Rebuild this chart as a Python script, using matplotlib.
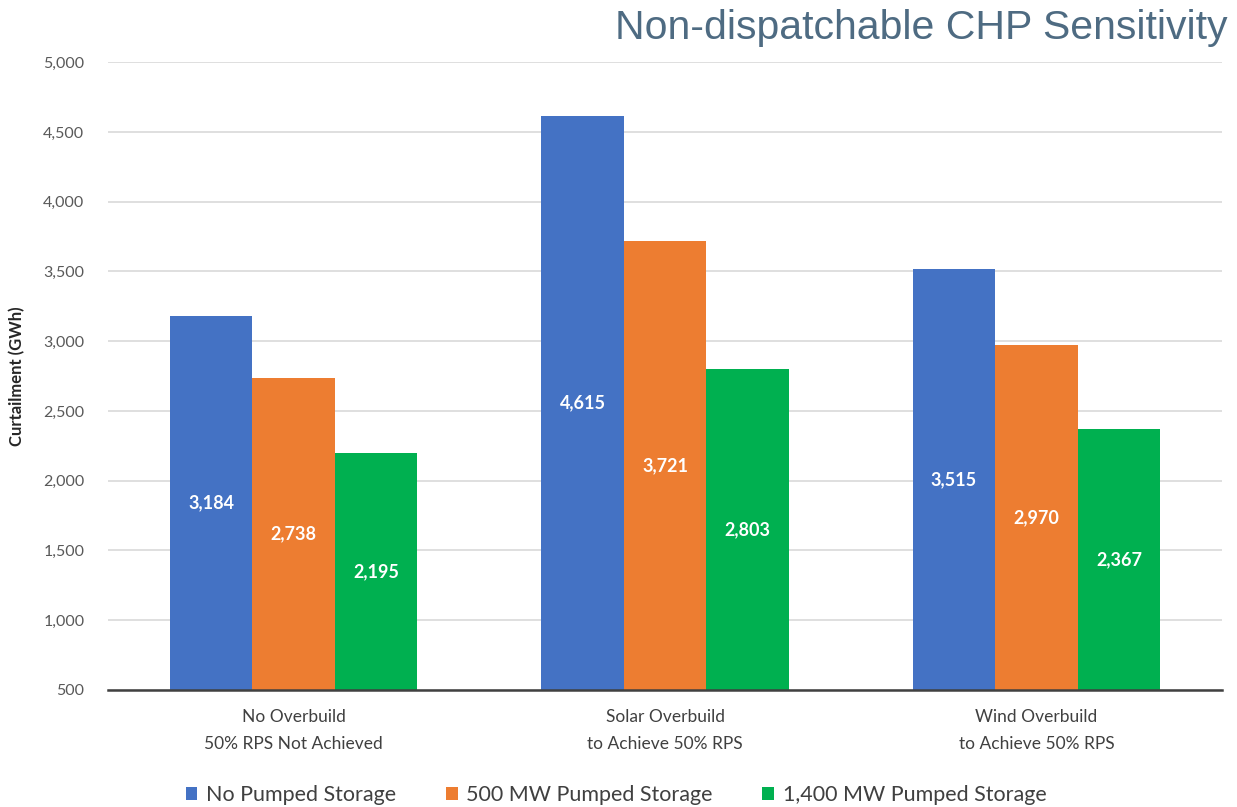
import matplotlib
matplotlib.use("Agg")
import matplotlib.pyplot as plt
import numpy as np

categories = ["No Overbuild\n50% RPS Not Achieved",
              "Solar Overbuild\nto Achieve 50% RPS",
              "Wind Overbuild\nto Achieve 50% RPS"]
series_names = ["No Pumped Storage", "500 MW Pumped Storage", "1,400 MW Pumped Storage"]
no_storage = [3184, 4615, 3515]
storage_500 = [2738, 3721, 2970]
storage_1400 = [2195, 2803, 2367]
y_ticks = [500, 1000, 1500, 2000, 2500, 3000, 3500, 4000, 4500, 5000]

colors = ["#4472C4", "#ED7D31", "#00B050"]
baseline = 500

plt.rcParams["font.family"] = ["Lato", "DejaVu Sans"]

fig = plt.figure(figsize=(12.37, 8.07), dpi=100)
ax = fig.add_axes([0.0873, 0.145, 0.9007, 0.778])

x = np.arange(len(categories))
width = 0.222
offsets = [-width, 0, width]
for vals, off, col, name in zip([no_storage, storage_500, storage_1400], offsets, colors, series_names):
    heights = [v - baseline for v in vals]
    ax.bar(x + off, heights, width, bottom=baseline, color=col, label=name, zorder=3)
    for xi, v in zip(x + off, vals):
        ax.text(xi, (baseline + v) / 2, f"{v:,}", ha="center", va="center",
                color="white", fontsize=13, fontweight="bold", zorder=4)

ax.set_xlim(-0.5, 2.5)
ax.set_ylim(500, 5000)
ax.set_yticks(y_ticks)
ax.set_yticklabels([f"{t:,}" for t in y_ticks], color="#595959", fontsize=11.5)
ax.set_xticks(x)
ax.set_xticklabels(categories, color="#404040", fontsize=12.5, linespacing=1.8)
ax.tick_params(axis="both", length=0)
ax.tick_params(axis="x", pad=14)
ax.tick_params(axis="y", pad=17)
ax.yaxis.grid(True, color="#D9D9D9", linewidth=1.2, zorder=0)
for s in ["top", "right", "left"]:
    ax.spines[s].set_visible(False)
ax.spines["bottom"].set_color("#404040")
ax.spines["bottom"].set_linewidth(1.8)
ax.spines["bottom"].set_zorder(5)

ax.set_ylabel("Curtailment (GWh)", fontsize=12, fontweight="bold", color="#262626", labelpad=13)

fig.text(0.992, 0.965, "Non-dispatchable CHP Sensitivity", ha="right", va="center",
         fontsize=29.5, color="#4E6B82", family=["Liberation Sans", "DejaVu Sans"])

leg = fig.legend(loc="lower center", bbox_to_anchor=(0.498, -0.022), ncol=3, frameon=False,
                 fontsize=15.5, handlelength=0.55, handleheight=0.55, columnspacing=2.3,
                 handletextpad=0.4)
for t in leg.get_texts():
    t.set_color("#404040")

fig.savefig("out.png", dpi=100)
